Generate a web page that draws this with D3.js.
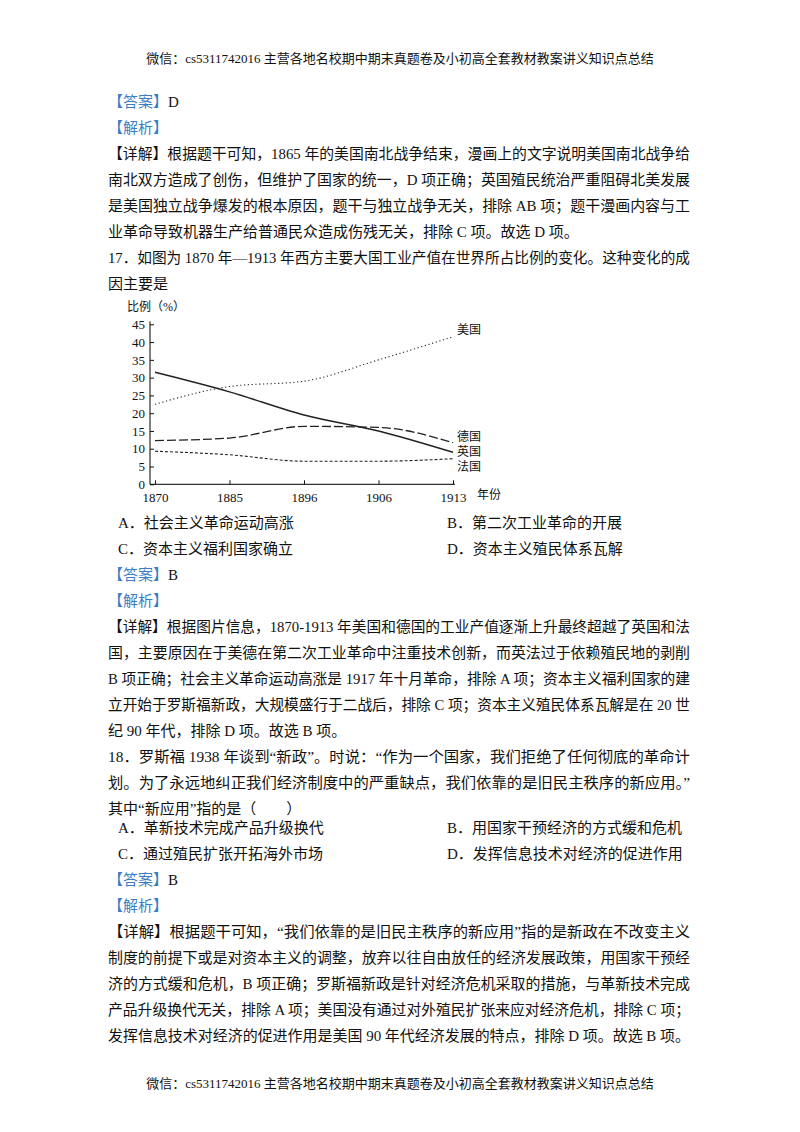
<!DOCTYPE html>
<html><head><meta charset="utf-8">
<script src="https://cdn.jsdelivr.net/npm/d3@7"></script>
<style>body{margin:0;background:#fff}svg{display:block}</style>
</head><body><svg id="s" width="800" height="1132"></svg>
<script>
const years = ["1870","1885","1896","1906","1913"];
const yTicks = [0,5,10,15,20,25,30,35,40,45];
const usa = [22.5,27.5,29,35,41.5];
const uk = [31.5,26,19.5,15,9];
const germany = [12.3,13,16.3,16,11.7];
const france = [9.3,8.3,6.5,6.5,7.2];
const seriesNames = ["美国","德国","英国","法国"];

const F = "'Liberation Serif','Noto Sans CJK SC',serif";
const svg = d3.select("#s");
const blue = "#3b7dc4";
const W = 582, L = 108;
function t(x,y,str,opt={}){
  const e = svg.append("text").attr("x",x).attr("y",y).attr("font-family",F)
    .attr("font-size",opt.size||15).attr("fill",opt.fill||"#111").text(str);
  if(opt.full) e.attr("textLength",W).attr("lengthAdjust","spacingAndGlyphs");
  if(opt.anchor) e.attr("text-anchor",opt.anchor);
  return e;
}
function label(y,lab,rest){
  const e = svg.append("text").attr("x",L).attr("y",y).attr("font-family",F).attr("font-size",15);
  e.append("tspan").attr("fill",blue).text(lab);
  if(rest) e.append("tspan").attr("fill","#111").text(rest);
}
const header = "微信：cs5311742016  主营各地名校期中期末真题卷及小初高全套教材教案讲义知识点总结";
t(400,63,header,{size:13,anchor:"middle"});
t(400,1088,header,{size:13,anchor:"middle"});

label(107,"【答案】","D");
label(133,"【解析】");
const p1 = ["【详解】根据题干可知，1865 年的美国南北战争结束，漫画上的文字说明美国南北战争给",
"南北双方造成了创伤，但维护了国家的统一，D 项正确；英国殖民统治严重阻碍北美发展",
"是美国独立战争爆发的根本原因，题干与独立战争无关，排除 AB 项；题干漫画内容与工",
"业革命导致机器生产给普通民众造成伤残无关，排除 C 项。故选 D 项。",
"17．如图为 1870 年—1913 年西方主要大国工业产值在世界所占比例的变化。这种变化的成",
"因主要是"];
p1.forEach((s,i)=>t(L,159+i*26,s,{full:i!==3&&i!==5}));

t(118,528,"A．社会主义革命运动高涨"); t(447,528,"B．第二次工业革命的开展");
t(118,554,"C．资本主义福利国家确立"); t(447,554,"D．资本主义殖民体系瓦解");
label(580,"【答案】","B");
label(606,"【解析】");
const p2 = ["【详解】根据图片信息，1870-1913 年美国和德国的工业产值逐渐上升最终超越了英国和法",
"国，主要原因在于美德在第二次工业革命中注重技术创新，而英法过于依赖殖民地的剥削",
"B 项正确；社会主义革命运动高涨是 1917 年十月革命，排除 A 项；资本主义福利国家的建",
"立开始于罗斯福新政，大规模盛行于二战后，排除 C 项；资本主义殖民体系瓦解是在 20 世",
"纪 90 年代，排除 D 项。故选 B 项。",
"18．罗斯福 1938 年谈到“新政”。时说：“作为一个国家，我们拒绝了任何彻底的革命计",
"划。为了永远地纠正我们经济制度中的严重缺点，我们依靠的是旧民主秩序的新应用。”",
"其中“新应用”指的是（　　）"];
p2.forEach((s,i)=>t(L,632+i*26,s,{full:i!==4&&i!==7}));
t(118,833,"A．革新技术完成产品升级换代"); t(447,833,"B．用国家干预经济的方式缓和危机");
t(118,859,"C．通过殖民扩张开拓海外市场"); t(447,859,"D．发挥信息技术对经济的促进作用");
label(885,"【答案】","B");
label(911,"【解析】");
const p3 = ["【详解】根据题干可知，“我们依靠的是旧民主秩序的新应用”指的是新政在不改变主义",
"制度的前提下或是对资本主义的调整，放弃以往自由放任的经济发展政策，用国家干预经",
"济的方式缓和危机，B 项正确；罗斯福新政是针对经济危机采取的措施，与革新技术完成",
"产品升级换代无关，排除 A 项；美国没有通过对外殖民扩张来应对经济危机，排除 C 项；",
"发挥信息技术对经济的促进作用是美国 90 年代经济发展的特点，排除 D 项。故选 B 项。"];
p3.forEach((s,i)=>t(L,937+i*26,s,{full:true}));

// chart
const x = d3.scalePoint().domain(years).range([155,453]);
const y = d3.scaleLinear().domain([0,45]).range([484.3,324.3]);
const g = svg.append("g").attr("font-family",F);
g.append("g").attr("transform","translate(150,0)")
  .call(d3.axisLeft(y).tickValues(yTicks).tickSize(-4).tickPadding(5))
  .call(a=>{a.select(".domain").attr("d","M0,"+(y(45)-3)+"V"+y(0));a.selectAll("text").attr("font-size",13).attr("fill","#111").attr("font-family",F);a.selectAll("line").attr("stroke","#111");});
g.append("g").attr("transform","translate(0,"+y(0)+")")
  .call(d3.axisBottom(x).tickSize(-4).tickPadding(8))
  .call(a=>{a.select(".domain").attr("d","M150,0H455");a.selectAll("text").attr("font-size",13).attr("fill","#111").attr("font-family",F);a.selectAll("line").attr("stroke","#111");});
t(127,311,"比例（%）",{size:12});
t(477,499,"年份",{size:12});
const line = d3.line().x((d,i)=>x(years[i])).y(d=>y(d)).curve(d3.curveMonotoneX);
const sty = [[usa,"1.2,2.6",1.1],[uk,null,1.5],[germany,"9,3",1.3],[france,"3,2",1.1]];
sty.forEach(([d,da,w])=>{
  const p=g.append("path").attr("d",line(d)).attr("fill","none").attr("stroke","#222").attr("stroke-width",w);
  if(da) p.attr("stroke-dasharray",da);
});
[["美国",43.3],["德国",13.3],["英国",9.1],["法国",4.9]].forEach(([n,v])=>t(457,y(v)+4,n,{size:12}));
</script></body></html>
